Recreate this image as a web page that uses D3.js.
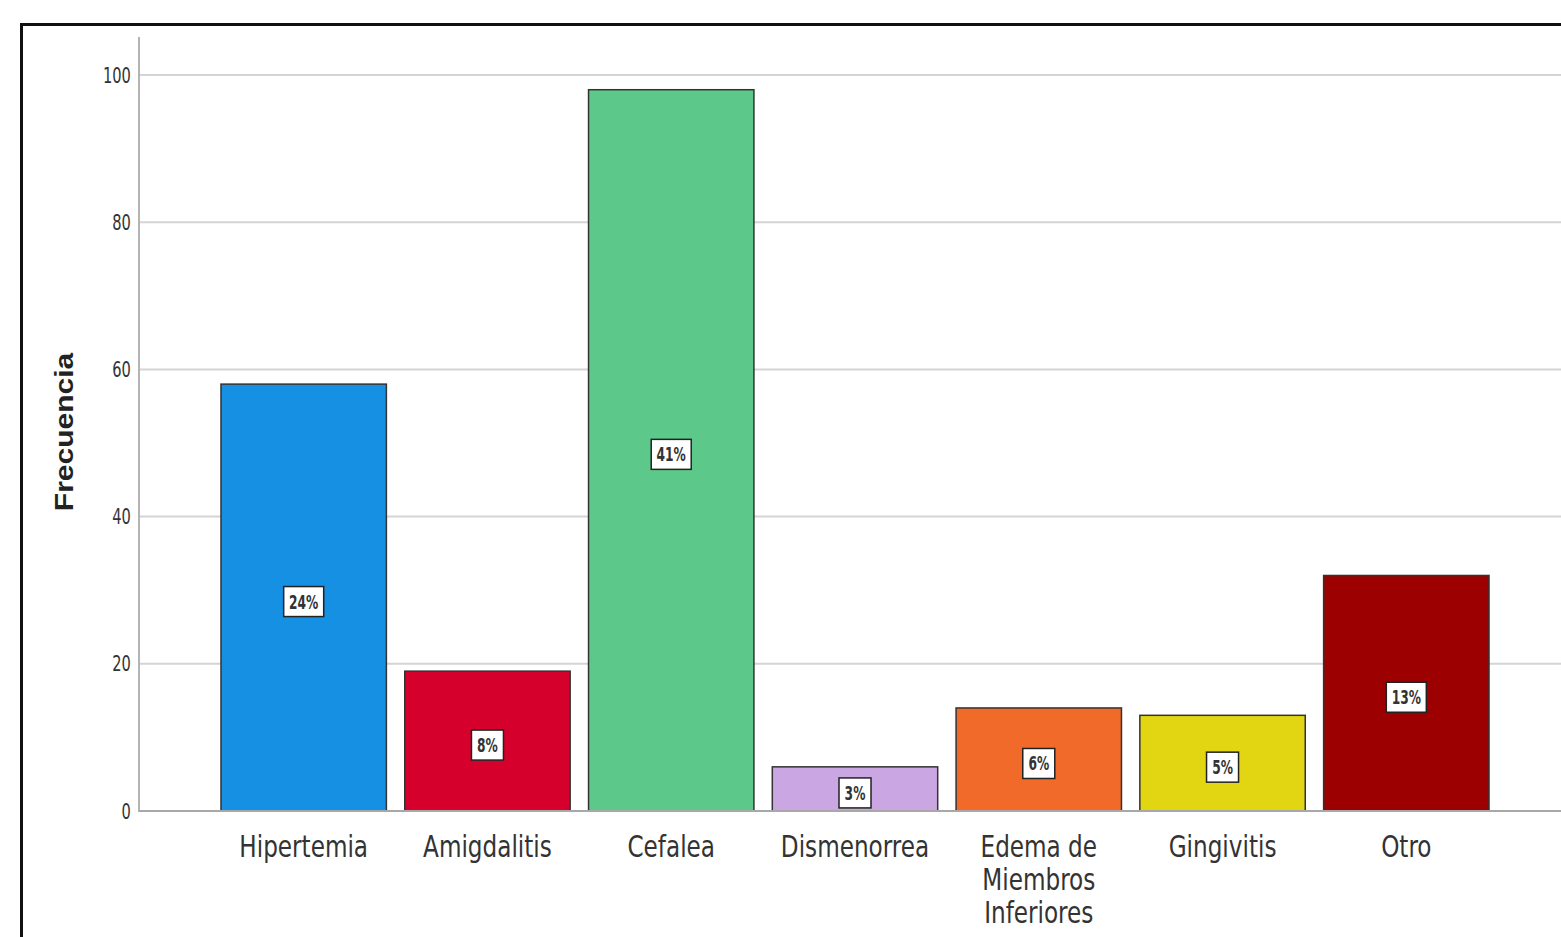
<!DOCTYPE html>
<html>
<head>
<meta charset="utf-8">
<script src="https://cdn.jsdelivr.net/npm/d3@7"></script>
<style>
  body { margin: 0; background: #fff; }
  svg { display: block; }
</style>
</head>
<body>
<div id="chart"></div>
<script>
// data ------------------------------------------------------------------
const categories = ["Hipertemia", "Amigdalitis", "Cefalea", "Dismenorrea",
                    "Edema de Miembros Inferiores", "Gingivitis", "Otro"];
const labelLines = [["Hipertemia"], ["Amigdalitis"], ["Cefalea"], ["Dismenorrea"],
                    ["Edema de", "Miembros", "Inferiores"], ["Gingivitis"], ["Otro"]];
const frequencies = [58, 19, 98, 6, 14, 13, 32];
const percentLabels = ["24%", "8%", "41%", "3%", "6%", "5%", "13%"];
const barColors = ["#1590e3", "#d6002c", "#5cc98a", "#caa6e2", "#f26a2a", "#e2d512", "#9c0000"];
const yTicks = [0, 20, 40, 60, 80, 100];

// setup -----------------------------------------------------------------
const svgWidth = 1561;
const svgHeight = 937;
const narrow = "'Liberation Sans Narrow', 'DejaVu Sans Condensed', 'Arial Narrow', sans-serif";

const svg = d3.select("#chart")
    .append("svg")
    .attr("width", svgWidth)
    .attr("height", svgHeight);

// outer frame (only top and left edges are visible)
svg.append("path")
    .attr("d", `M21.5,${svgHeight + 5} V24.5 H${svgWidth + 5}`)
    .attr("fill", "none")
    .attr("stroke", "#111")
    .attr("stroke-width", 3);

// scales
const x = d3.scaleBand()
    .domain(categories)
    .range([211.8, 1498.2])
    .paddingInner(0.1)
    .paddingOuter(0.05);

const y = d3.scaleLinear()
    .domain([0, 100])
    .range([811, 75]);

// gridlines
svg.append("g")
    .selectAll("line")
    .data(yTicks.filter(d => d > 0))
    .enter()
    .append("line")
    .attr("x1", 139)
    .attr("x2", svgWidth)
    .attr("y1", d => y(d))
    .attr("y2", d => y(d))
    .attr("stroke", "#d4d4d4")
    .attr("stroke-width", 2);

// y axis
const yAxis = svg.append("g")
    .attr("transform", "translate(139,0)")
    .call(d3.axisLeft(y).tickValues(yTicks).tickSize(0).tickPadding(11));
yAxis.select(".domain").remove();
yAxis.selectAll("text")
    .attr("font-family", narrow)
    .attr("font-size", "22px")
    .attr("fill", "#333")
    .attr("transform", "scale(0.74,1)");

svg.append("line")
    .attr("x1", 139).attr("x2", 139)
    .attr("y1", 37).attr("y2", 812)
    .attr("stroke", "#b4b4b4")
    .attr("stroke-width", 2);

// y axis title
svg.append("text")
    .attr("transform", "translate(73,432) rotate(-90) scale(1.2,1)")
    .attr("text-anchor", "middle")
    .attr("font-family", "'Liberation Sans', Arial, sans-serif")
    .attr("font-weight", "bold")
    .attr("font-size", "25px")
    .attr("fill", "#222")
    .text("Frecuencia");

// bars
svg.append("g")
    .selectAll("rect")
    .data(frequencies)
    .enter()
    .append("rect")
    .attr("x", (d, i) => x(categories[i]))
    .attr("width", x.bandwidth())
    .attr("y", d => y(d))
    .attr("height", d => y(0) - y(d))
    .attr("fill", (d, i) => barColors[i])
    .attr("stroke", "#333")
    .attr("stroke-width", 1.5);

// baseline
svg.append("line")
    .attr("x1", 139).attr("x2", svgWidth)
    .attr("y1", y(0)).attr("y2", y(0))
    .attr("stroke", "#a8a8a8")
    .attr("stroke-width", 2);

// percent labels
const pctGroup = svg.append("g")
    .selectAll("g")
    .data(frequencies)
    .enter()
    .append("g")
    .attr("transform", (d, i) => `translate(${x(categories[i]) + x.bandwidth() / 2},${(y(d) + y(0)) / 2 + 4})`);

pctGroup.append("rect")
    .attr("x", (d, i) => percentLabels[i].length > 2 ? -20 : -16)
    .attr("width", (d, i) => percentLabels[i].length > 2 ? 40 : 32)
    .attr("y", -15)
    .attr("height", 30)
    .attr("fill", "#fff")
    .attr("stroke", "#222")
    .attr("stroke-width", 1.5);

pctGroup.append("text")
    .attr("text-anchor", "middle")
    .attr("y", 7)
    .attr("font-family", narrow)
    .attr("font-size", "20px")
    .attr("font-weight", "bold")
    .attr("fill", "#333")
    .attr("transform", "scale(0.68,1)")
    .text((d, i) => percentLabels[i]);

// category labels
const catLabels = svg.append("g")
    .selectAll("text")
    .data(labelLines)
    .enter()
    .append("text")
    .attr("text-anchor", "middle")
    .attr("font-family", narrow)
    .attr("font-size", "31px")
    .attr("fill", "#333")
    .attr("transform", (d, i) => `translate(${x(categories[i]) + x.bandwidth() / 2},857) scale(0.83,1)`);

catLabels.selectAll("tspan")
    .data(d => d)
    .enter()
    .append("tspan")
    .attr("x", 0)
    .attr("dy", (d, i) => i === 0 ? 0 : 33)
    .text(d => d);
</script>
</body>
</html>
